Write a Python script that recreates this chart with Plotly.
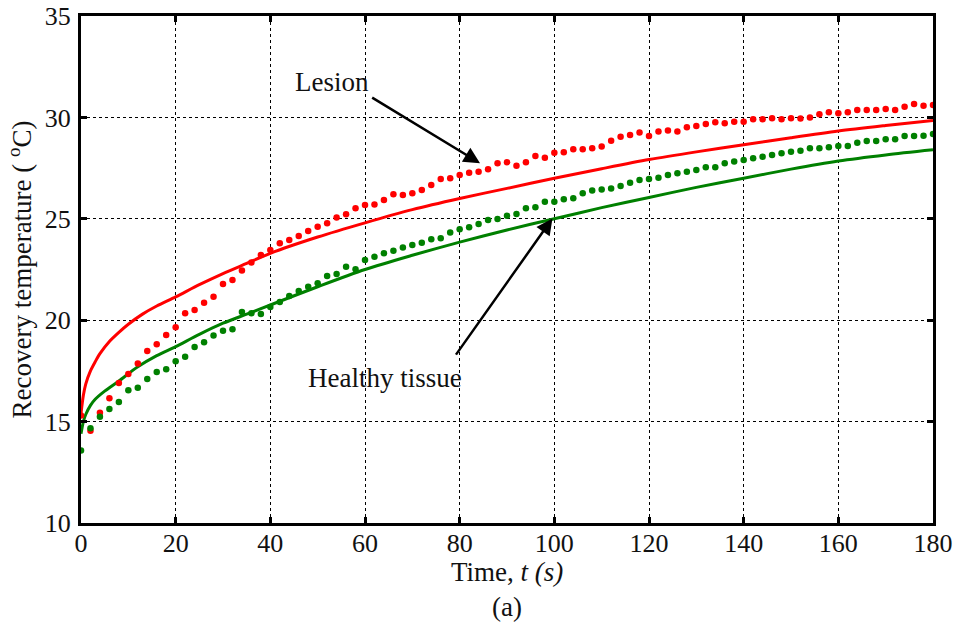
import plotly.graph_objects as go

# Measured (dotted) data, sampled every 2 s
t_meas = list(range(0, 181, 2))
lesion_meas = [15.3, 14.55, 15.44, 16.15, 16.90, 17.35, 17.87, 18.48, 18.81, 19.27,
               19.65, 20.34, 20.50, 20.86, 21.16, 21.79, 21.98, 22.45, 22.85, 23.21,
               23.46, 23.79, 23.95, 24.15, 24.40, 24.61, 24.78, 25.07, 25.22, 25.52,
               25.68, 25.70, 25.93, 26.21, 26.17, 26.26, 26.42, 26.67, 26.96, 27.00,
               27.16, 27.27, 27.32, 27.44, 27.74, 27.79, 27.62, 27.79, 28.10, 28.01,
               28.26, 28.28, 28.43, 28.43, 28.48, 28.56, 28.85, 29.05, 29.13, 29.26,
               29.08, 29.30, 29.35, 29.30, 29.51, 29.58, 29.67, 29.76, 29.71, 29.79,
               29.79, 29.91, 29.91, 29.96, 29.91, 29.96, 29.94, 30.00, 30.16, 30.25,
               30.20, 30.25, 30.36, 30.36, 30.36, 30.41, 30.36, 30.53, 30.66, 30.58,
               30.61]
healthy_meas = [13.57, 14.67, 15.24, 15.62, 15.97, 16.54, 16.67, 17.10, 17.45, 17.58,
                17.97, 18.20, 18.68, 18.91, 19.25, 19.48, 19.55, 20.40, 20.34, 20.31,
                20.65, 20.90, 21.19, 21.44, 21.65, 21.82, 22.18, 22.28, 22.64, 22.51,
                22.97, 23.13, 23.30, 23.43, 23.59, 23.71, 23.82, 23.99, 24.04, 24.32,
                24.48, 24.58, 24.74, 24.94, 24.99, 25.15, 25.24, 25.52, 25.57, 25.84,
                25.84, 25.96, 26.01, 26.26, 26.39, 26.45, 26.50, 26.62, 26.78, 26.91,
                26.96, 27.03, 27.16, 27.24, 27.32, 27.41, 27.54, 27.54, 27.74, 27.82,
                27.90, 27.98, 28.06, 28.15, 28.23, 28.31, 28.36, 28.48, 28.48, 28.53,
                28.59, 28.59, 28.75, 28.84, 28.84, 28.92, 28.92, 29.08, 29.08, 29.10,
                29.18]

# Model (solid) curves
t_lesion_model = [0, 0.5, 1, 2, 3, 4, 6, 8, 10, 13, 16, 20, 25, 30, 35, 40, 50, 60, 70,
                  80, 90, 100, 110, 120, 130, 140, 150, 160, 170, 180]
lesion_model = [15.4, 16.3, 16.85, 17.5, 17.95, 18.35, 18.95, 19.4, 19.8, 20.3, 20.7, 21.15,
                21.75, 22.3, 22.8, 23.3, 24.1, 24.8, 25.45, 26.0, 26.5, 27.0, 27.47,
                27.92, 28.3, 28.65, 29.0, 29.33, 29.6, 29.85]
t_healthy_model = [0, 0.5, 1, 2, 3, 5, 8, 12, 16, 20, 25, 30, 35, 40, 50, 60, 70, 80, 90,
                   100, 110, 120, 130, 140, 150, 160, 170, 180]
healthy_model = [14.4, 15.0, 15.35, 15.8, 16.1, 16.5, 17.0, 17.7, 18.25, 18.7, 19.3,
                 19.85, 20.3, 20.75, 21.65, 22.5, 23.2, 23.85, 24.45, 25.0, 25.55, 26.05,
                 26.55, 27.0, 27.45, 27.85, 28.15, 28.4]

x_ticks = list(range(0, 181, 20))
y_ticks = [10, 15, 20, 25, 30, 35]

RED = "#ff0000"
GREEN = "#008000"
FONT = "Liberation Serif"
TXT = "#111"

fig = go.Figure()
fig.add_trace(go.Scatter(x=t_lesion_model, y=lesion_model, mode="lines",
                         line=dict(color=RED, width=3, shape="spline", smoothing=0.8),
                         showlegend=False))
fig.add_trace(go.Scatter(x=t_healthy_model, y=healthy_model, mode="lines",
                         line=dict(color=GREEN, width=3, shape="spline", smoothing=0.8),
                         showlegend=False))
fig.add_trace(go.Scatter(x=t_meas, y=lesion_meas, mode="markers",
                         marker=dict(color=RED, size=6.5), showlegend=False))
fig.add_trace(go.Scatter(x=t_meas, y=healthy_meas, mode="markers",
                         marker=dict(color=GREEN, size=6.5), showlegend=False))

axis_common = dict(
    showline=True, linecolor="black", linewidth=3, mirror="ticks",
    ticks="inside", ticklen=6, tickwidth=3, tickcolor="black",
    showgrid=True, gridcolor="black", gridwidth=1.2, griddash="dot",
    zeroline=False, automargin=False,
    tickfont=dict(family=FONT, size=26, color=TXT),
)

fig.update_xaxes(range=[0, 180], tickvals=x_ticks, ticklabelstandoff=-5, **axis_common)
fig.update_yaxes(range=[10, 35], tickvals=y_ticks, ticklabelstandoff=2,
                 title=dict(text="Recovery temperature ( <sup>o</sup>C)",
                            font=dict(family=FONT, size=27, color=TXT), standoff=6),
                 **axis_common)

# X-axis title and panel label
fig.add_annotation(x=0.5, y=-0.0966, xref="paper", yref="paper", yanchor="middle",
                   text="Time, <i>t (s)</i>", showarrow=False,
                   font=dict(family=FONT, size=27, color=TXT))
fig.add_annotation(x=0.5, y=-0.166, xref="paper", yref="paper", yanchor="middle",
                   text="(a)", showarrow=False, font=dict(family=FONT, size=27, color=TXT))

# Annotations
fig.add_annotation(x=53, y=31.76, text="Lesion", showarrow=False,
                   font=dict(family=FONT, size=27, color=TXT))
fig.add_annotation(x=84.3, y=27.74, ax=61.2, ay=31.02, axref="x", ayref="y",
                   showarrow=True, arrowhead=2, arrowsize=1.3, arrowwidth=2.5,
                   arrowcolor="black", text="")
fig.add_annotation(x=64.2, y=17.15, text="Healthy tissue", showarrow=False,
                   font=dict(family=FONT, size=27, color=TXT))
fig.add_annotation(x=99.6, y=25.02, ax=79.0, ay=18.23, axref="x", ayref="y",
                   showarrow=True, arrowhead=2, arrowsize=1.3, arrowwidth=2.5,
                   arrowcolor="black", text="")

fig.update_layout(
    width=962, height=628,
    margin=dict(l=81, r=29, t=16, b=105),
    paper_bgcolor="white", plot_bgcolor="white",
)

fig.write_html("out.html")
